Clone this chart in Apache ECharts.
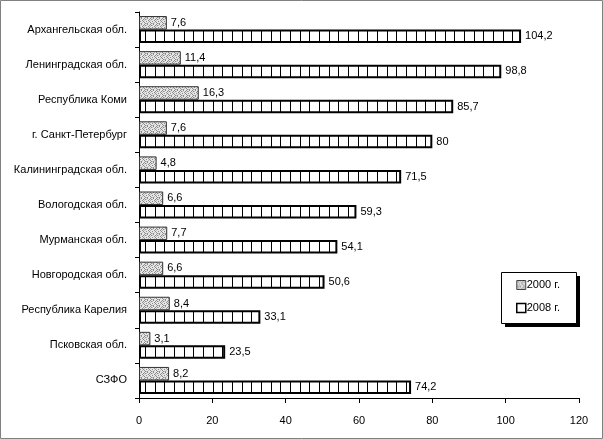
<!DOCTYPE html>
<html><head><meta charset="utf-8">
<script src="https://cdn.jsdelivr.net/npm/echarts@6/dist/echarts.min.js"></script>
<style>html,body{margin:0;padding:0;background:#fff}#c{width:603px;height:439px}</style>
</head><body><div id="c"></div>
<script>
const categories = ['Архангельская обл.','Ленинградская обл.','Республика Коми','г. Санкт-Петербург','Калининградская обл.','Вологодская обл.','Мурманская обл.','Новгородская обл.','Республика Карелия','Псковская обл.','СЗФО'];
const values2000 = [7.6, 11.4, 16.3, 7.6, 4.8, 6.6, 7.7, 6.6, 8.4, 3.1, 8.2];
const values2008 = [104.2, 98.8, 85.7, 80, 71.5, 59.3, 54.1, 50.6, 33.1, 23.5, 74.2];
const xTicks = [0, 20, 40, 60, 80, 100, 120];
const seriesNames = ['2000 г.', '2008 г.'];

function dotPattern(){
  const c = document.createElement('canvas'); c.width = 6; c.height = 6;
  const g = c.getContext('2d');
  g.fillStyle = '#e6e6e6'; g.fillRect(0,0,6,6);
  const dots = [[0,0],[3,0],[1,1],[4,2],[2,3],[5,3],[0,4],[3,5],[1,5],[5,1]];
  g.fillStyle = '#8a8a8a';
  dots.forEach(d => g.fillRect(d[0], d[1], 1, 1));
  g.fillStyle = '#bdbdbd';
  [[2,1],[0,2],[4,4],[2,5]].forEach(d => g.fillRect(d[0], d[1], 1, 1));
  return c;
}
function linePattern(){
  const c = document.createElement('canvas'); c.width = 29; c.height = 4;
  const g = c.getContext('2d');
  g.fillStyle = '#ffffff'; g.fillRect(0,0,29,4);
  g.fillStyle = '#000000';
  g.fillRect(0,0,1,4); g.fillRect(10,0,1,4); g.fillRect(19,0,1,4);
  return c;
}
const fill2000 = {image: dotPattern(), repeat: 'repeat'};
const fill2008 = {image: linePattern(), repeat: 'repeat'};
const font = "'Liberation Sans', Arial, sans-serif";
const fmt = v => String(v).replace('.', ',');

const chart = echarts.init(document.getElementById('c'), null, {renderer: 'canvas'});
chart.setOption({
  animation: false,
  textStyle: {fontFamily: font},
  graphic: [
    {type: 'rect', shape: {x: 0.5, y: 0.5, width: 602, height: 438}, style: {fill: 'none', stroke: '#808080', lineWidth: 1}, silent: true, z: 100},
    {type: 'rect', shape: {x: 505, y: 276, width: 75, height: 51}, style: {fill: '#000'}, silent: true, z: 10},
    {type: 'rect', shape: {x: 501.5, y: 272.5, width: 75, height: 51}, style: {fill: '#fff', stroke: '#000', lineWidth: 1}, silent: true, z: 11}
  ],
  grid: {left: 139, right: 24, top: 12, bottom: 41},
  legend: {
    orient: 'vertical', left: 516, top: 278, z: 20,
    padding: 0, itemGap: 9,
    itemWidth: 9, itemHeight: 9, icon: 'rect',
    textStyle: {fontSize: 11, color: '#000', fontFamily: font, padding: [0, 0, 0, -4], lineHeight: 14},
    data: [
      {name: seriesNames[0], itemStyle: {color: fill2000, borderColor: '#444', borderWidth: 1}},
      {name: seriesNames[1], itemStyle: {color: '#fff', borderColor: '#000', borderWidth: 1.5}}
    ]
  },
  xAxis: {
    type: 'value', min: xTicks[0], max: xTicks[xTicks.length-1], interval: 20,
    splitLine: {show: false},
    axisLine: {show: true, lineStyle: {color: '#000'}},
    axisTick: {show: true, length: 5, lineStyle: {color: '#000'}},
    axisLabel: {color: '#000', fontSize: 11, margin: 17, fontFamily: font}
  },
  yAxis: {
    type: 'category', data: categories, inverse: true,
    axisLine: {show: true, lineStyle: {color: '#000'}},
    axisTick: {show: true, length: 4, lineStyle: {color: '#000'}},
    axisLabel: {color: '#000', fontSize: 11, margin: 12, fontFamily: font}
  },
  series: [
    {name: seriesNames[0], type: 'bar', data: values2000, barGap: '0%', barCategoryGap: '23%',
     itemStyle: {color: fill2000, borderColor: '#333', borderWidth: 1},
     label: {show: true, position: 'right', distance: 4, color: '#000', fontSize: 11, fontFamily: font, formatter: p => fmt(p.value)}},
    {name: seriesNames[1], type: 'bar', data: values2008, barGap: '0%', barCategoryGap: '23%',
     itemStyle: {color: fill2008, borderColor: '#000', borderWidth: 2},
     label: {show: true, position: 'right', distance: 4, color: '#000', fontSize: 11, fontFamily: font, formatter: p => fmt(p.value)}}
  ]
});
</script></body></html>
